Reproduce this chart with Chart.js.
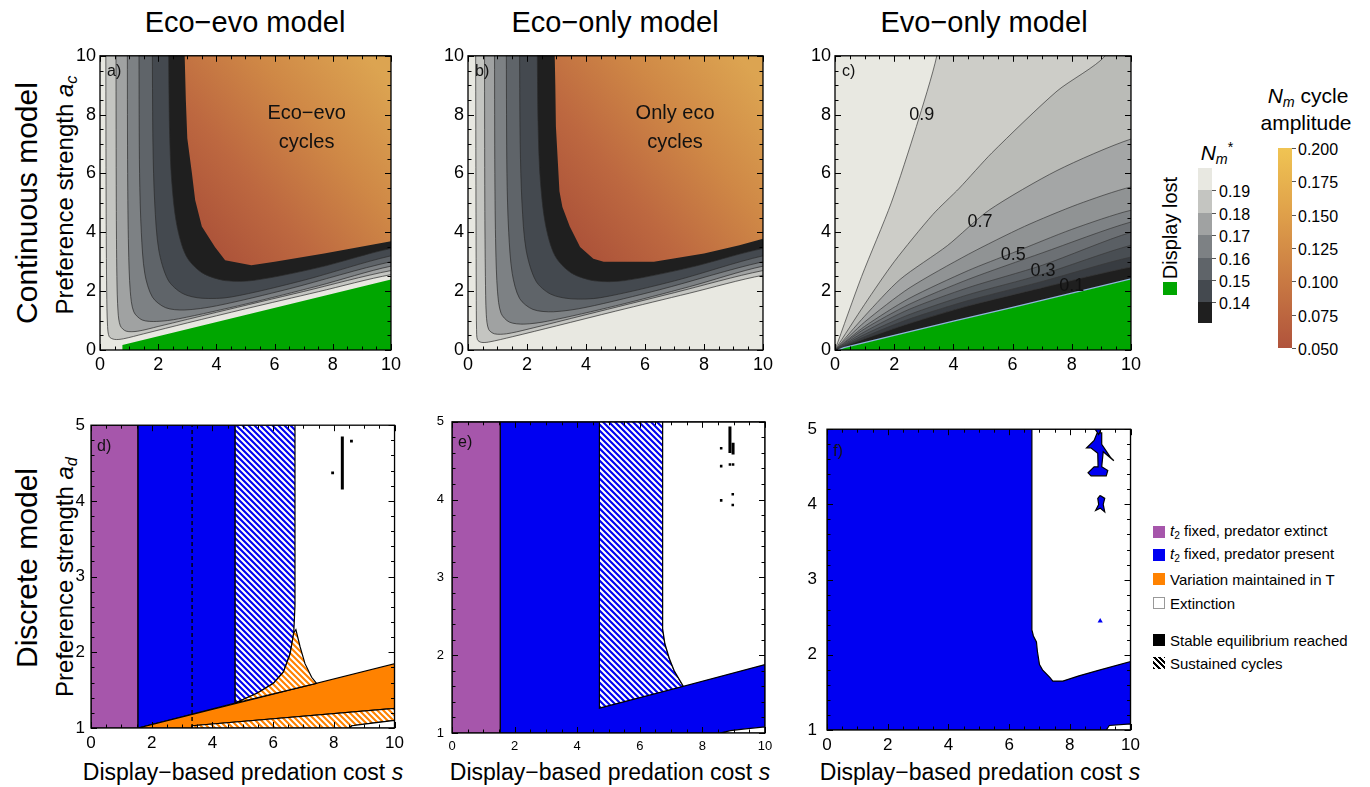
<!DOCTYPE html>
<html>
<head>
<meta charset="utf-8">
<title>Eco-evo / eco-only / evo-only model</title>
<script src="https://cdn.jsdelivr.net/npm/chart.js@4.4.1/dist/chart.umd.min.js"></script>
<style>
  body { margin:0; width:1370px; height:787px; background:#fff; position:relative; overflow:hidden;
         font-family:'Liberation Sans', Arial, sans-serif; color:#000; }
  canvas { position:absolute; }
  .t { position:absolute; white-space:nowrap; transform:translate(-50%,-50%); line-height:1; }
  .v { position:absolute; white-space:nowrap; transform:translate(-50%,-50%) rotate(-90deg); line-height:1; }
  .lg { position:absolute; white-space:nowrap; font-size:15px; line-height:1; transform:translateY(-50%); }
  .sw { position:absolute; width:12px; height:12px; box-sizing:border-box; }
  .cb { position:absolute; left:0; width:14px; }
  .tk { position:absolute; width:4px; height:1px; background:#555; }
  sub { font-size:68%; vertical-align:-0.25em; }
  sup { font-size:68%; vertical-align:0.55em; }
</style>
</head>
<body>

<div class="t" style="left:245px;top:22px;font-size:29px">Eco−evo model</div>
<div class="t" style="left:615px;top:22px;font-size:29px">Eco−only model</div>
<div class="t" style="left:984px;top:22px;font-size:29px">Evo−only model</div>

<div class="v" style="left:27px;top:203px;font-size:30px">Continuous model</div>
<div class="v" style="left:66px;top:195px;font-size:24px">Preference strength <i>a<sub>c</sub></i></div>
<div class="v" style="left:27px;top:568px;font-size:30px">Discrete model</div>
<div class="v" style="left:66px;top:577px;font-size:24px">Preference strength <i>a<sub>d</sub></i></div>

<div class="t" style="left:243px;top:772px;font-size:23px">Display−based predation cost <i>s</i></div>
<div class="t" style="left:610px;top:772px;font-size:23px">Display−based predation cost <i>s</i></div>
<div class="t" style="left:980px;top:772px;font-size:23px">Display−based predation cost <i>s</i></div>

<!-- continuous-model legends -->
<div class="v" style="left:1170px;top:228px;font-size:20px">Display lost</div>
<div class="sw" style="left:1163px;top:282px;width:14px;height:13px;background:#00a600"></div>
<div class="t" style="left:1217px;top:153px;font-size:21px"><i>N<sub>m</sub></i><sup>*</sup></div>
<div id="nmbar" style="position:absolute;left:1198px;top:168px;width:14px;height:155px"></div>
<div class="t" style="left:1308px;top:97px;font-size:21px"><i>N<sub>m</sub></i> cycle</div>
<div class="t" style="left:1306px;top:122px;font-size:21px">amplitude</div>
<div id="ampbar" style="position:absolute;left:1278px;top:148px;width:14px;height:200px"></div>

<!-- discrete-model legend -->
<div id="dlegend"></div>

<script>
// ---------------- axes ----------------
const sTicks  = [0, 2, 4, 6, 8, 10];
const acTicks = [0, 2, 4, 6, 8, 10];
const adTicks = [1, 2, 3, 4, 5];

// ---------------- legends ----------------
const nmLabels  = ['0.19', '0.18', '0.17', '0.16', '0.15', '0.14'];
const ampLabels = ['0.200', '0.175', '0.150', '0.125', '0.100', '0.075', '0.050'];
const discreteLabels = ['t2 fixed, predator extinct', 't2 fixed, predator present',
                        'Variation maintained in T', 'Extinction',
                        'Stable equilibrium reached', 'Sustained cycles'];

// ---------------- a) eco-evo, continuous ----------------
// N_m* contour lines (0.19 ... 0.14), from the top edge down the arm and out along the lower arm
const ecoEvoContours = [
  [[0.20,10],[0.21,5],[0.23,2],[0.26,0.8],[0.32,0.45],[0.5,0.36],[0.8,0.38],[1.5,0.55],[3,0.92],[5,1.4],[7.5,1.98],[10,2.56]],
  [[0.55,10],[0.56,5],[0.58,2.5],[0.62,1.3],[0.7,0.82],[0.9,0.64],[1.3,0.64],[2,0.8],[4,1.28],[7,1.99],[10,2.7]],
  [[0.94,10],[0.95,6],[0.98,3.5],[1.04,2.0],[1.16,1.3],[1.45,1.02],[1.95,0.97],[2.7,1.06],[5,1.56],[7.5,2.18],[10,2.85]],
  [[1.34,10],[1.36,6],[1.42,4],[1.54,2.6],[1.8,1.8],[2.25,1.44],[2.9,1.36],[4,1.5],[6.5,2.08],[10,3.0]],
  [[1.80,10],[1.82,7],[1.88,5],[2.02,3.4],[2.34,2.38],[2.84,1.92],[3.5,1.76],[4.5,1.8],[7,2.37],[10,3.2]],
  [[2.36,10],[2.39,7.5],[2.46,5.8],[2.63,4.3],[2.96,3.2],[3.5,2.63],[4.3,2.36],[5.3,2.37],[7.5,2.8],[10,3.45]]
];
// edge of the eco-evo cycle region
const ecoEvoCycles = [[2.91,10],[2.95,8.5],[3.0,7.2],[3.16,6.0],[3.27,5.1],[3.5,4.2],[3.95,3.5],[4.3,3.05],
                      [5.2,2.88],[6.0,3.0],[7.7,3.28],[10,3.7]];
// upper edge of the display-lost region
const ecoEvoDisplayLost = [[0.77,0],[0.77,0.17],[10,2.4]];

// ---------------- b) eco-only, continuous ----------------
const ecoOnlyContours = [
  [[0.26,10],[0.27,5],[0.28,2],[0.29,0.7],[0.32,0.35],[0.45,0.26],[0.7,0.27],[1.5,0.45],[3,0.82],[5,1.32],[7.5,1.93],[10,2.54]],
  [[0.56,10],[0.57,5],[0.59,2.5],[0.62,1.2],[0.7,0.7],[0.9,0.55],[1.3,0.55],[2,0.7],[4,1.2],[7,1.95],[10,2.7]],
  [[0.90,10],[0.91,6],[0.94,3.5],[1.0,2.0],[1.12,1.25],[1.4,0.95],[1.9,0.88],[2.7,0.98],[5,1.5],[7.5,2.15],[10,2.85]],
  [[1.30,10],[1.32,6],[1.38,4],[1.5,2.6],[1.75,1.75],[2.2,1.38],[2.9,1.3],[4,1.45],[6.5,2.05],[10,3.0]],
  [[1.75,10],[1.77,7],[1.83,5],[1.97,3.4],[2.3,2.35],[2.8,1.9],[3.5,1.74],[4.5,1.78],[7,2.35],[10,3.2]],
  [[2.35,10],[2.38,7.5],[2.45,5.8],[2.62,4.3],[2.95,3.2],[3.5,2.62],[4.3,2.35],[5.3,2.36],[7.5,2.8],[10,3.45]]
];
const ecoOnlyCycles = [[2.94,10],[2.96,9],[2.98,7.6],[3.1,5.4],[3.2,4.86],[3.45,4.2],[3.8,3.5],[4.25,3.1],
                       [4.6,3.0],[6.3,3.0],[8.0,3.28],[9.2,3.56],[10,3.78]];

// ---------------- c) evo-only, continuous ----------------
// ten contour lines fanning out of the origin (top-left light -> bottom-right dark)
const evoOnlyContours = [
  [[0,0],[0.9,2.5],[1.9,5.0],[2.75,7.6],[3.44,10]],
  [[0,0],[1,1.55],[2,3.0],[3.3,4.6],[4.2,5.5],[5.3,6.7],[7.5,8.8],[9.13,10]],
  [[0,0],[1,1.15],[2.2,2.4],[3.8,3.55],[5.2,4.75],[7.5,6.1],[10,7.17]],
  [[0,0],[1,0.95],[2.5,2.1],[4.5,3.25],[6.4,4.2],[8.2,4.95],[10,5.54]],
  [[0,0],[1,0.8],[2.5,1.75],[4.5,2.7],[6.0,3.3],[8,4.1],[10,4.75]],
  [[0,0],[1,0.72],[2.5,1.55],[4.5,2.4],[7,3.3],[10,4.35]],
  [[0,0],[1,0.62],[2.5,1.38],[4.5,2.12],[7,2.88],[10,4.0]],
  [[0,0],[1,0.53],[2.5,1.2],[4.5,1.88],[7,2.57],[10,3.56]],
  [[0,0],[1,0.45],[2.5,1.05],[4.5,1.68],[7,2.33],[10,3.16]],
  [[0,0],[1,0.38],[2.5,0.9],[4.5,1.5],[7,2.12],[10,2.82]]
];
const evoOnlyLabels  = ['0.9', '0.7', '0.5', '0.3', '0.1'];
const evoOnlyLabelAt = [[2.93,8.0],[4.9,4.35],[6.02,3.22],[7.03,2.69],[8.0,2.17]];
const evoOnlyDisplayLost = [[0.1,0],[0.3,0.08],[2,0.5],[4,0.98],[6,1.45],[8,1.93],[10,2.42]];

// ---------------- d) eco-evo, discrete ----------------
const dPredExtinct = [[0,1],[1.55,1],[1.55,5],[0,5]];
const dPredPresent = [[1.55,5],[4.75,5],[4.75,1.33],[1.55,1.0]];
const dCyclesFixed = [[4.75,5],[6.72,5],[6.72,2.62],[6.68,2.26],[6.56,1.98],[6.34,1.74],[6.01,1.59],[5.47,1.46],[4.75,1.33]];
const dCyclesVarTop = [[4.75,1.33],[5.47,1.46],[6.01,1.59],[6.34,1.74],[6.56,1.98],[6.68,2.26],[6.75,2.3],
                       [6.89,2.07],[7.05,1.85],[7.27,1.67],[7.43,1.59]];
const dVariation = [[1.55,1.0],[10,1.85],[10,1.26],[3.33,1.03],[3.33,1.0]];
const dCyclesVarLow = [[3.33,1.03],[10,1.26],[10,1.1],[9.2,1.06],[8.6,1.03],[8.5,1.0],[3.33,1.0]];
const dExtinctLow = [[8.5,1.0],[8.6,1.03],[9.2,1.06],[10,1.1],[10,1.0]];
const dDashedS = [[3.33,1],[3.33,5]];
const dStableBars = [[[8.28,4.15],[8.28,4.85]]];
const dStableDots = [[7.96,4.37],[8.58,4.79]];

// ---------------- e) eco-only, discrete ----------------
const ePredExtinct = [[0,1],[1.54,1],[1.54,5],[0,5]];
const ePredPresent = [[1.54,1],[10,1],[10,5],[1.54,5]];
const eCycles  = [[4.71,5],[6.73,5],[6.73,2.34],[6.8,2.15],[6.95,1.95],[7.1,1.8],[7.39,1.6],[4.71,1.32]];
const eExtinct = [[6.73,5],[10,5],[10,1.88],[7.39,1.6],[7.1,1.8],[6.95,1.95],[6.8,2.15],[6.73,2.34]];
const eExtinctLow = [[8.56,1],[8.9,1.03],[9.3,1.05],[10,1.08],[10,1]];
const eStableBars = [[[8.88,4.6],[8.88,4.94]], [[8.98,4.58],[8.98,4.73]]];
const eStableDots = [[8.6,4.66],[8.6,4.43],[8.88,4.45],[8.98,4.45],[8.97,4.07],[8.6,3.99],[8.97,3.93]];

// ---------------- f) evo-only, discrete ----------------
const fPredPresent = [[0,1],[10,1],[10,5],[0,5]];
const fExtinct = [[6.75,5],[10,5],[10,1.91],[9,1.8],[8.3,1.72],[7.77,1.65],[7.44,1.65],[7.34,1.7],[7.1,1.8],
                  [7.0,1.87],[6.93,2.05],[6.9,2.17],[6.8,2.25],[6.75,2.33]];
const fIslands = [
  [[8.9,4.95],[9.05,4.95],[9.05,4.8],[9.35,4.62],[9.45,4.58],[9.1,4.7],[9.05,4.5],[9.25,4.45],[9.2,4.38],
   [8.7,4.38],[8.6,4.42],[8.8,4.5],[8.93,4.5],[8.92,4.68],[8.7,4.75],[8.55,4.75],[8.8,4.85]],
  [[8.8,5.02],[9.05,5.02],[8.95,4.93]],
  [[9.0,4.12],[9.15,4.08],[9.1,4.0],[9.15,3.9],[9.0,3.95],[8.85,3.92],[8.95,4.0],[8.92,4.08]]
];
const fIslandDots = [[9.0,2.45]];
const fExtinctLow = [[9.2,1],[9.3,1.06],[10,1.08],[10,1]];

// ---------------- styles ----------------
const FONT = "'Liberation Sans', Arial, sans-serif";
const LIGHT = '#e8e8e1';
const nmColors = ['#e8e8e1', '#c4c5c1', '#a0a2a2', '#7d8184', '#5f6469', '#44494f', '#1f1f1f'];
const evoBandColors = ['#cdcdc8', '#babbb7', '#a4a6a6', '#909394', '#7e8285', '#6c7074', '#5a5f64', '#494e53', '#383c41', '#1f1f1f'];
const GREEN = '#00a600', PURPLE = '#a656ab', BLUE = '#0000f2', ORANGE = '#ff8200';
const ampStops = ['#a94f38', '#bd6840', '#cf8846', '#dca451'];
Chart.defaults.font.family = FONT;
Chart.defaults.color = '#000';

function hatch(color) {
  const c = document.createElement('canvas');
  c.width = c.height = 6;
  const g = c.getContext('2d');
  g.fillStyle = color; g.fillRect(0, 0, 6, 6);
  g.strokeStyle = '#fff'; g.lineWidth = 2.1;
  g.beginPath();
  for (const o of [-6, 0, 6]) { g.moveTo(o - 1, -1); g.lineTo(o + 7, 7); }
  g.stroke();
  return g.createPattern(c, 'repeat');
}
const BLUE_HATCH = hatch(BLUE), ORANGE_HATCH = hatch(ORANGE);

function ampGradient(context) {
  const ch = context.chart;
  if (!ch.chartArea) return ampStops[2];
  const x = ch.scales.x, y = ch.scales.y;
  const g = ch.ctx.createLinearGradient(x.getPixelForValue(3.2), y.getPixelForValue(3.5),
                                        x.getPixelForValue(10), y.getPixelForValue(9));
  ampStops.forEach((c, i) => g.addColorStop(i / (ampStops.length - 1), c));
  return g;
}

// ---------------- dataset helpers ----------------
const xy = pts => pts.map(([x, y]) => ({x, y}));
const poly = (pts, bg, extra) => Object.assign({
  data: xy(pts), showLine: true, fill: 'shape', backgroundColor: bg,
  borderColor: 'rgba(0,0,0,0)', borderWidth: 1, pointRadius: 0, tension: 0
}, extra);
const closed = pts => pts.concat([pts[0]]);
const outlined = (pts, bg) => poly(closed(pts), bg, {borderColor: '#000', borderWidth: 1.2});
const line = (pts, color, width, extra) => Object.assign({
  data: xy(pts), showLine: true, fill: false, borderColor: color, borderWidth: width,
  pointRadius: 0, tension: 0
}, extra);
const dots = (pts, color, style, r) => ({
  data: xy(pts), showLine: false, pointStyle: style, pointRadius: r, pointBackgroundColor: color,
  pointBorderWidth: 0, backgroundColor: color
});

// region to the upper right of a hyperbola-like contour
const enclosedUpperRight = c => [[c[0][0], 10.8], ...c, [10.8, c[c.length - 1][1]], [10.8, 10.8]];
// region below a contour that starts at the origin
const belowFromOrigin = c => {
  const last = c[c.length - 1];
  const close = last[1] >= 10 ? [[last[0], 10.8], [10.8, 10.8]] : [[10.8, last[1]]];
  return [...c, ...close, [10.8, -0.8], [0, -0.8]];
};

function contourPanel(contours, cycles) {
  const ds = contours.map((c, i) => poly(enclosedUpperRight(c), nmColors[i + 1],
                                         {borderColor: '#2b2b2b', borderWidth: 0.7, tension: 0.3}));
  ds.push(poly([...cycles, [10.8, cycles[cycles.length - 1][1]], [10.8, 10.8], [cycles[0][0], 10.8]], ampGradient));
  return ds;
}

// ---------------- frame / ticks / annotations plugin ----------------
const framePlugin = {
  id: 'frame',
  beforeDatasetsDraw(chart, args, o) {
    const {ctx, chartArea: a} = chart;
    ctx.save(); ctx.fillStyle = o.bg; ctx.fillRect(a.left, a.top, a.width, a.height); ctx.restore();
  },
  afterDatasetsDraw(chart, args, o) {
    const {ctx, chartArea: a, scales: {x, y}} = chart;
    ctx.save();
    ctx.strokeStyle = '#000'; ctx.lineWidth = 1;
    ctx.beginPath();
    const mark = (scale, step, major, horiz) => {
      for (let k = 0, v = scale.min; v <= scale.max + 1e-9; k++, v = scale.min + k * step) {
        const r = (v - scale.min) / major;
        const L = Math.abs(r - Math.round(r)) < 1e-6 ? 6 : 3.5;
        const p = Math.round(scale.getPixelForValue(v)) + 0.5;
        if (horiz) { ctx.moveTo(p, a.bottom); ctx.lineTo(p, a.bottom - L); ctx.moveTo(p, a.top); ctx.lineTo(p, a.top + L); }
        else { ctx.moveTo(a.left, p); ctx.lineTo(a.left + L, p); ctx.moveTo(a.right, p); ctx.lineTo(a.right - L, p); }
      }
    };
    mark(x, o.xMinor, o.xMajor, true);
    mark(y, o.yMinor, o.yMajor, false);
    ctx.stroke();
    ctx.lineWidth = 1.3;
    ctx.strokeRect(a.left, a.top, a.width, a.height);
    ctx.fillStyle = '#111'; ctx.textBaseline = 'middle';
    for (const t of o.texts || []) {
      ctx.font = t.font; ctx.textAlign = t.align || 'center';
      const px = t.px != null ? a.left + t.px : x.getPixelForValue(t.x);
      const py = t.py != null ? a.top + t.py : y.getPixelForValue(t.y);
      ctx.fillText(t.text, px, py);
    }
    ctx.restore();
  }
};

const PAD = 14, XH = 28;
function panel(rect, cfg) {
  const [l, t, r, b] = rect;
  const cv = document.createElement('canvas');
  const left = l - cfg.yw - PAD, top = t - PAD;
  const w = r + PAD - left, h = b + XH - top;
  cv.width = w; cv.height = h;
  Object.assign(cv.style, {left: left + 'px', top: top + 'px', width: w + 'px', height: h + 'px'});
  document.body.appendChild(cv);
  const tickFont = {size: cfg.fs, family: FONT};
  return new Chart(cv, {
    type: 'scatter',
    data: {datasets: cfg.datasets.map((d, i) => Object.assign({order: -i}, d))},
    options: {
      responsive: false, animation: false, devicePixelRatio: 1,
      layout: {padding: {left: PAD, top: PAD, right: PAD, bottom: 0}},
      plugins: {legend: {display: false}, tooltip: {enabled: false}, frame: cfg.frame},
      scales: {
        x: {type: 'linear', min: 0, max: 10,
            afterFit: s => { s.height = XH; },
            afterBuildTicks: s => { s.ticks = sTicks.map(v => ({value: v})); },
            grid: {display: false, drawTicks: false}, border: {display: false},
            ticks: {padding: cfg.xpad, font: tickFont, color: '#000', maxRotation: 0, autoSkip: false}},
        y: {type: 'linear', min: cfg.yTicks[0], max: cfg.yTicks[cfg.yTicks.length - 1],
            afterFit: s => { s.width = cfg.yw; },
            afterBuildTicks: s => { s.ticks = cfg.yTicks.map(v => ({value: v})); },
            grid: {display: false, drawTicks: false}, border: {display: false},
            ticks: {padding: cfg.ypad, font: tickFont, color: '#000', autoSkip: false}}
      }
    },
    plugins: [framePlugin]
  });
}

const f = s => s + "px " + FONT;
const topFrame = (letter, texts) => ({bg: LIGHT, xMinor: 0.5, xMajor: 2, yMinor: 0.5, yMajor: 2,
  texts: [{text: letter, px: 7, py: 16, align: 'left', font: f(16)}, ...texts]});
const botFrame = (letter, py) => ({bg: '#fff', xMinor: 0.5, xMajor: 2, yMinor: 0.2, yMajor: 1,
  texts: [{text: letter, px: 6, py: py, align: 'left', font: f(16)}]});

// a)
panel([100, 55, 391, 350], {
  yw: 30, fs: 18, xpad: 4, ypad: 4, yTicks: acTicks,
  datasets: [...contourPanel(ecoEvoContours, ecoEvoCycles),
             poly([...ecoEvoDisplayLost, [10.8, 2.42], [10.8, -0.8], [0.77, -0.8]], GREEN)],
  frame: topFrame('a)', [{text: 'Eco−evo', x: 7.1, y: 8.03, font: f(20)}, {text: 'cycles', x: 7.1, y: 7.05, font: f(20)}])
});

// b)
panel([468, 55, 763, 350], {
  yw: 30, fs: 18, xpad: 4, ypad: 4, yTicks: acTicks,
  datasets: contourPanel(ecoOnlyContours, ecoOnlyCycles),
  frame: topFrame('b)', [{text: 'Only eco', x: 7.02, y: 8.03, font: f(20)}, {text: 'cycles', x: 7.02, y: 7.05, font: f(20)}])
});

// c)
panel([835, 55, 1131, 350], {
  yw: 30, fs: 18, xpad: 4, ypad: 4, yTicks: acTicks,
  datasets: [...evoOnlyContours.map((c, i) => poly(belowFromOrigin(c), evoBandColors[i],
                                  {borderColor: '#3a3a3a', borderWidth: 0.7, tension: 0.25})),
             poly([...evoOnlyDisplayLost, [10.8, 2.42], [10.8, -0.8], [0.1, -0.8]], GREEN,
                  {borderColor: '#8fb3dc', borderWidth: 1.3})],
  frame: topFrame('c)', evoOnlyLabels.map((t, i) => ({text: t, x: evoOnlyLabelAt[i][0], y: evoOnlyLabelAt[i][1], font: f(18)})))
});

// d)
panel([91, 423, 395, 728], {
  yw: 28, fs: 17, xpad: 5, ypad: 6, yTicks: adTicks,
  datasets: [outlined(dPredExtinct, PURPLE), outlined(dPredPresent, BLUE), outlined(dCyclesFixed, BLUE_HATCH),
             outlined(dVariation, ORANGE), outlined(dCyclesVarTop, ORANGE_HATCH), outlined(dCyclesVarLow, ORANGE_HATCH),
             outlined(dExtinctLow, '#fff'), line(dDashedS, '#000', 1.4, {borderDash: [4, 3]}),
             ...dStableBars.map(b => line(b, '#000', 3)), dots(dStableDots, '#000', 'rect', 2)],
  frame: botFrame('d)', 21)
});

// e)
panel([452, 420, 765, 733], {
  yw: 28, fs: 13, xpad: 6, ypad: 8, yTicks: adTicks,
  datasets: [outlined(ePredPresent, BLUE), outlined(ePredExtinct, PURPLE), outlined(eCycles, BLUE_HATCH),
             outlined(eExtinct, '#fff'), outlined(eExtinctLow, '#fff'),
             ...eStableBars.map(b => line(b, '#000', 3)), dots(eStableDots, '#000', 'rect', 1.8)],
  frame: botFrame('e)', 21)
});

// f)
panel([827, 423, 1131, 730], {
  yw: 32, fs: 17, xpad: 5, ypad: 10, yTicks: adTicks,
  datasets: [outlined(fPredPresent, BLUE), outlined(fExtinct, '#fff'),
             ...fIslands.map(p => outlined(p, BLUE)), outlined(fExtinctLow, '#fff'),
             dots(fIslandDots, BLUE, 'triangle', 3)],
  frame: botFrame('f)', 22)
});

// ---------------- legends (HTML) ----------------
(function () {
  const bar = document.getElementById('nmbar');
  const edges = [0, 22, 45, 67, 90, 112, 134, 155];
  nmColors.forEach((c, i) => {
    const d = document.createElement('div');
    d.className = 'cb';
    Object.assign(d.style, {top: edges[i] + 'px', height: (edges[i + 1] - edges[i]) + 'px', background: c});
    bar.appendChild(d);
  });
  nmLabels.forEach((t, i) => {
    const y = 168 + edges[i + 1];
    const tk = document.createElement('div'); tk.className = 'tk';
    Object.assign(tk.style, {left: '1212px', top: y + 'px'}); document.body.appendChild(tk);
    const lb = document.createElement('div'); lb.className = 'lg';
    Object.assign(lb.style, {left: '1219px', top: (y + 2) + 'px', fontSize: '16px'});
    lb.textContent = t; document.body.appendChild(lb);
  });
  const amp = document.getElementById('ampbar');
  amp.style.background = 'linear-gradient(to bottom, #f0c453 0%, #dfa04a 33%, #c97a43 66%, #b0533c 100%)';
  ampLabels.forEach((t, i) => {
    const y = 148 + i * 200 / (ampLabels.length - 1);
    const tk = document.createElement('div'); tk.className = 'tk';
    Object.assign(tk.style, {left: '1292px', top: y + 'px'}); document.body.appendChild(tk);
    const lb = document.createElement('div'); lb.className = 'lg';
    Object.assign(lb.style, {left: '1298px', top: (y + 2) + 'px', fontSize: '16px'});
    lb.textContent = t; document.body.appendChild(lb);
  });

  const rowsY = [532, 555, 579, 603, 640, 663];
  const swatch = [
    'background:' + PURPLE, 'background:' + BLUE, 'background:' + ORANGE,
    'background:#fff;border:1px solid #999', 'background:#000',
    'background:repeating-linear-gradient(45deg,#000 0 2px,#fff 2px 4px)'
  ];
  const host = document.getElementById('dlegend');
  discreteLabels.forEach((t, i) => {
    const s = document.createElement('div'); s.className = 'sw';
    s.style.cssText = swatch[i] + ';left:1153px;top:' + (rowsY[i] - 6) + 'px';
    host.appendChild(s);
    const lb = document.createElement('div'); lb.className = 'lg';
    Object.assign(lb.style, {left: '1170px', top: rowsY[i] + 'px'});
    if (t.startsWith('t2')) lb.innerHTML = '<i>t</i><sub>2</sub>' + t.slice(2);
    else lb.textContent = t;
    host.appendChild(lb);
  });
})();
</script>
</body>
</html>
